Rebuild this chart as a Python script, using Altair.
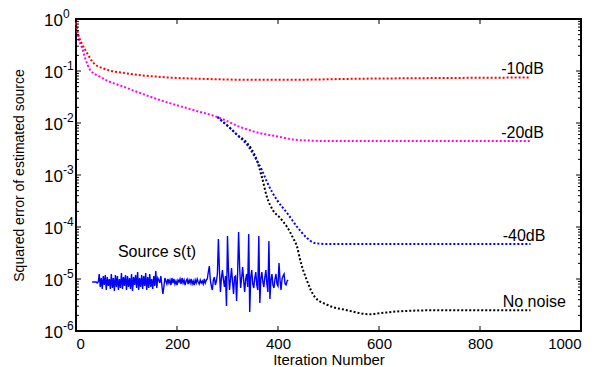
import altair as alt
import pandas as pd

FONT = "Liberation Sans"
W, H = 505, 312

# ---- curves (iteration, squared error) ----
red_it = [0, 3, 6, 12, 22, 34, 54, 100, 166, 265, 330, 430, 560, 700, 900]
red_err = [0.85, 0.58, 0.45, 0.33, 0.22, 0.145, 0.112, 0.090, 0.077, 0.070, 0.068, 0.068, 0.071, 0.073, 0.075]

mag_it = [0, 3, 6, 12, 18, 28, 48, 101, 166, 232, 285, 325, 364, 404, 430, 460, 500, 600, 900]
mag_err = [0.85, 0.55, 0.40, 0.28, 0.178, 0.105, 0.077, 0.047, 0.0277, 0.0178, 0.0125, 0.0084, 0.0064, 0.0054, 0.0048, 0.0046, 0.0045, 0.0045, 0.0045]

blue_it = [280, 305, 320, 340, 358, 368, 378, 398, 418, 438, 457, 473, 500, 600, 900]
blue_err = [0.013, 0.008, 0.0058, 0.0037, 0.0019, 0.00125, 7.4e-4, 3.3e-4, 1.86e-4, 1.0e-4, 6.2e-5, 4.9e-5, 4.7e-5, 4.7e-5, 4.7e-5]

black_it = [280, 305, 320, 339, 358, 368, 378, 390, 404, 418, 430, 438, 444, 457, 473, 497, 537, 582, 602, 642, 707, 900]
black_err = [0.013, 0.008, 0.0058, 0.0041, 0.00194, 9.2e-4, 3.8e-4, 2.1e-4, 1.5e-4, 1.0e-4, 6.1e-5, 4.1e-5, 2.3e-5, 9.5e-6, 4.5e-6, 3.2e-6, 2.5e-6, 2.1e-6, 2.2e-6, 2.4e-6, 2.5e-6, 2.5e-6]

curve_names = ["No noise", "-40dB", "-20dB", "-10dB"]
curve_colors = ["#000000", "#0000ff", "#ff00ff", "#ff0000"]
curve_data = [(black_it, black_err), (blue_it, blue_err), (mag_it, mag_err), (red_it, red_err)]

# ---- labels at curve ends ----
label_text = ["-10dB", "-20dB", "-40dB", "No noise"]
label_it = [842, 842, 845, 845]
label_val = [0.075, 0.0045, 4.7e-5, 2.5e-6]

# ---- source signal s(t) inset (amplitude, arbitrary units) ----
sig_start_iter = 32
sig_step = 2
sig_vals = (
    [0, 0, 0, 0, 0, -1, 0]
    + [8, -5, 4, -7, 6, -3, 7, -8, 5, -4, 3, -7, 8, -6, 4, -9, 7, -5, 6, -8,
       3, -6, 9, -7, 5, -4, 7, -8, 6, -5, 4, -7, 8, -9, 5, -3, 7, -6, 10, -8,
       4, -5, 7, -7, 6, -4, 9, -8, 5, -6, 8, -5, 3, -7, 6, -4, 11, -6, 4]
    + [2, -1, 6, -3, -12, -5, 4, 1, -2, 3, -1, 2, -3, 4, -1, 3, -2, 1, -3, 2,
       0, 3, -2, 4, -1, 2, -3, 1, 3, -2, 2, -1, 3, -2, 1, -3, 2, -1, 3, 0,
       -2, 2, -1, 1, -2, 3, -1, 2]
    + [3, 10, 16, 2, -4, -8, 2, 5, -3, 1, 8, 43, 12, -10, 4, 12, 2, -5, 6, -24,
       46, 10, -8, 3, 14, 0, -12, 5, 6, -19, 8, 50, 15, -6, 4, 15, 2, -10, 3, 8,
       -5, 48, -30, 5, 12, -2, -6, 4, 10, -3, -8, 46, -21, 3, 10, 0, -5, 5, 12, -2,
       -10, 41, -17, 2, 8, -3, -6, 3, 8, -2, -4, 19, 2, -8, 3, 6, 8, -2, -3, 1, 2]
)
sig_label = "Source  s(t)"
sig_label_it = 83
sig_label_val = 25

x_ticks = [0, 200, 400, 600, 800, 1000]
decades = [1, 1e-1, 1e-2, 1e-3, 1e-4, 1e-5, 1e-6]
exps = ["0", "-1", "-2", "-3", "-4", "-5", "-6"]
minor = [m * 10.0 ** k for k in range(-6, 0) for m in range(2, 10)]

xscale = alt.Scale(domain=[0, 1000], nice=False, zero=False)
yscale = alt.Scale(type="log", domain=[1e-6, 1], nice=False)
sscale = alt.Scale(domain=[-49, 263], nice=False, zero=False)

layers = []

# axis carrier (titles + x labels)
axis_df = pd.DataFrame({"it": [0, 1000], "v": [1e-6, 1]})
layers.append(
    alt.Chart(axis_df).mark_point(opacity=0).encode(
        x=alt.X("it:Q", scale=xscale, axis=alt.Axis(
            values=x_ticks, format="d", ticks=False, domain=False, grid=False,
            labelFont=FONT, labelFontSize=15, labelColor="black", labelPadding=5,
            title="Iteration Number", titleFont=FONT, titleFontSize=15,
            titleFontWeight="normal", titleColor="black", titlePadding=1)),
        y=alt.Y("v:Q", scale=yscale, axis=alt.Axis(
            labels=False, ticks=False, domain=False, grid=False,
            title="Squared error of estimated source", titleFont=FONT,
            titleFontSize=14, titleFontWeight="normal", titleColor="black",
            titlePadding=50)),
    )
)

# curves
for name, color, (its, errs) in zip(curve_names, curve_colors, curve_data):
    df = pd.DataFrame({"it": its, "err": errs})
    layers.append(
        alt.Chart(df).mark_line(
            color=color, strokeWidth=2, strokeDash=[2, 2], interpolate="monotone"
        ).encode(
            x=alt.X("it:Q", scale=xscale),
            y=alt.Y("err:Q", scale=yscale, axis=None),
        )
    )

# curve labels
lab_df = pd.DataFrame({"t": label_text, "it": label_it, "v": label_val})
layers.append(
    alt.Chart(lab_df).mark_text(
        font=FONT, fontSize=16, align="left", baseline="alphabetic", dy=-3, color="black"
    ).encode(
        x=alt.X("it:Q", scale=xscale),
        y=alt.Y("v:Q", scale=yscale, axis=None),
        text="t:N",
    )
)

# source signal
sig_df = pd.DataFrame({
    "it": [sig_start_iter + sig_step * i for i in range(len(sig_vals))],
    "s": sig_vals,
})
layers.append(
    alt.Chart(sig_df).mark_line(color="#0000ff", strokeWidth=1.4).encode(
        x=alt.X("it:Q", scale=xscale),
        y=alt.Y("s:Q", scale=sscale, axis=None),
    )
)
sl_df = pd.DataFrame({"t": [sig_label], "it": [sig_label_it], "s": [sig_label_val]})
layers.append(
    alt.Chart(sl_df).mark_text(
        font=FONT, fontSize=16, align="left", baseline="alphabetic", color="black"
    ).encode(
        x=alt.X("it:Q", scale=xscale),
        y=alt.Y("s:Q", scale=sscale, axis=None),
        text="t:N",
    )
)

# y tick labels 10^k
dec_df = pd.DataFrame({"v": decades, "e": exps, "b": ["10"] * len(decades)})
layers.append(
    alt.Chart(dec_df).mark_text(
        font=FONT, fontSize=17, align="right", baseline="middle", dy=2, color="black"
    ).encode(
        x=alt.value(-13),
        y=alt.Y("v:Q", scale=yscale, axis=None),
        text="b:N",
    )
)
layers.append(
    alt.Chart(dec_df).mark_text(
        font=FONT, fontSize=12, align="left", baseline="middle", dy=-5, color="black"
    ).encode(
        x=alt.value(-13),
        y=alt.Y("v:Q", scale=yscale, axis=None),
        text="e:N",
    )
)

# inward ticks
xt_df = pd.DataFrame({"it": x_ticks[1:-1]})
for y0, y1 in [(H, H - 5), (0, 5)]:
    layers.append(
        alt.Chart(xt_df).mark_rule(color="black", strokeWidth=1).encode(
            x=alt.X("it:Q", scale=xscale), y=alt.value(y0), y2=alt.value(y1)
        )
    )
maj_df = pd.DataFrame({"v": decades})
min_df = pd.DataFrame({"v": minor})
for df, ln in [(maj_df, 5), (min_df, 3)]:
    for x0, x1 in [(0, ln), (W, W - ln)]:
        layers.append(
            alt.Chart(df).mark_rule(color="black", strokeWidth=1).encode(
                y=alt.Y("v:Q", scale=yscale, axis=None),
                x=alt.value(x0), x2=alt.value(x1),
            )
        )

chart = (
    alt.layer(*layers)
    .resolve_scale(y="independent")
    .properties(
        width=W, height=H,
        autosize=alt.AutoSizeParams(type="none"),
        padding={"left": 68, "top": 11, "right": 4, "bottom": 40},
        background="white",
    )
    .configure_view(stroke="black", strokeWidth=2)
)

chart.save("out.html", embed_options={"renderer": "svg", "actions": False})
